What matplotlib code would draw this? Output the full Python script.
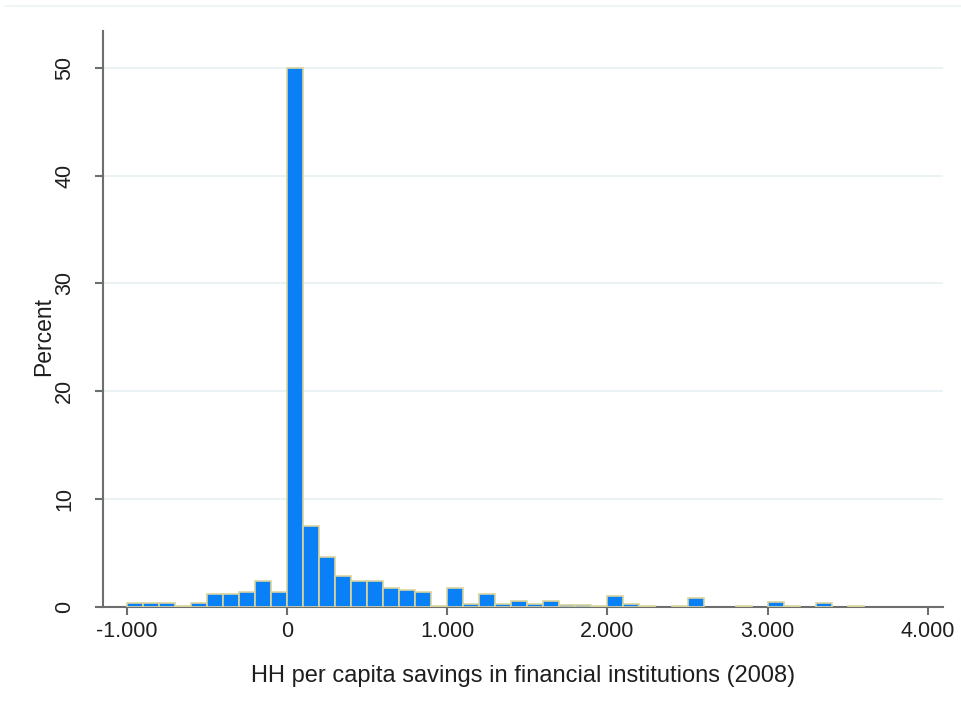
import numpy as np
import matplotlib
matplotlib.use("Agg")
import matplotlib.pyplot as plt
from matplotlib.lines import Line2D

plt.rcParams['font.family'] = ['Liberation Sans', 'DejaVu Sans']

# Histogram of household savings, bins of 100 starting at -1000
bin_start = -1000
bin_width = 100
percent = [
    0.4, 0.4, 0.4, 0.1, 0.4, 1.2, 1.2, 1.35, 2.4, 1.35,      # -1000 .. -100
    50.0, 7.5, 4.6, 2.85, 2.4, 2.4, 1.8, 1.55, 1.35, 0.05,   # 0 .. 900
    1.8, 0.3, 1.2, 0.3, 0.6, 0.3, 0.6, 0.15, 0.15, 0.05,     # 1000 .. 1900
    1.05, 0.3, 0.05, 0.0, 0.05, 0.8, 0.0, 0.0, 0.05, 0.0,    # 2000 .. 2900
    0.5, 0.05, 0.0, 0.35, 0.0, 0.05,                         # 3000 .. 3500
]

xticks = [-1000, 0, 1000, 2000, 3000, 4000]
xtick_labels = ["-1.000", "0", "1.000", "2.000", "3.000", "4.000"]
yticks = [0, 10, 20, 30, 40, 50]
xlabel = "HH per capita savings in financial institutions (2008)"
ylabel = "Percent"

axis_color = "#6e6e6e"
bar_color = "#0a80f6"
edge_color = "#d9d49c"

fig = plt.figure(figsize=(9.61, 7.04), dpi=100)
ax = fig.add_axes([0.1072, 0.1378, 0.8741, 0.8182])

heights = np.array(percent)
lefts = bin_start + bin_width * np.arange(len(heights))
keep = heights > 0
ax.bar(lefts[keep], heights[keep], width=bin_width, align="edge",
       color=bar_color, edgecolor=edge_color, linewidth=1.2, zorder=3)

ax.set_xlim(-1149, 4095)
ax.set_ylim(0, 53.4)

ax.set_yticks(yticks)
ax.set_yticklabels([str(v) for v in yticks], rotation=90, va="center")
ax.set_xticks(xticks)
ax.set_xticklabels(xtick_labels)

for v in yticks[1:]:
    ax.axhline(v, color="#e8f0f2", linewidth=1.2, zorder=1)

for side in ["top", "right"]:
    ax.spines[side].set_visible(False)
for side in ["left", "bottom"]:
    ax.spines[side].set_color(axis_color)
    ax.spines[side].set_linewidth(1.5)

ax.tick_params(axis="both", colors=axis_color, length=6, width=1.5,
               labelcolor="#1e1e1e", labelsize=15.5)
ax.tick_params(axis="x", pad=4)
ax.tick_params(axis="y", pad=14)

ax.set_xlabel(xlabel, fontsize=17, color="#1e1e1e", labelpad=17)
ax.set_ylabel(ylabel, fontsize=16.5, color="#1e1e1e")
ax.yaxis.set_label_coords(-0.057, 0.47)

# faint border line along the top of the graph region
fig.add_artist(Line2D([0.005, 1.0], [1 - 5.7 / 704, 1 - 5.7 / 704],
                      color="#eef3f4", linewidth=1.2))

fig.savefig("out.png", dpi=100)
